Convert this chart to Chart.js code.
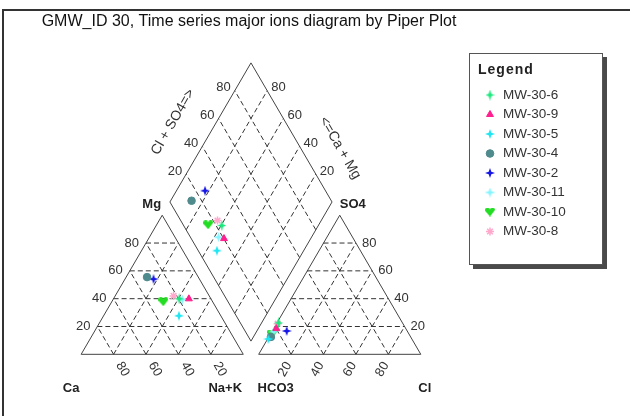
<!DOCTYPE html>
<html>
<head>
<meta charset="utf-8">
<script src="https://cdn.jsdelivr.net/npm/chart.js@4/dist/chart.umd.min.js"></script>
<style>
  html, body { margin: 0; padding: 0; background: #fff; }
  #wrap { width: 630px; height: 416px; }
</style>
</head>
<body>
<div id="wrap"><canvas id="piper" width="630" height="416"></canvas></div>
<script>
// samples (legend order) and their milliequivalent percentages
const samples = ['MW-30-6', 'MW-30-9', 'MW-30-5', 'MW-30-4', 'MW-30-2', 'MW-30-11', 'MW-30-10', 'MW-30-8'];
const ca   = [19.6, 13.6, 25.8, 31.6, 28.3, 17.9, 30.4, 22.0];
const mg   = [39.9, 39.9, 27.7, 55.5, 54.1, 39.4, 37.8, 42.0];
const naK  = [40.5, 46.5, 46.5, 12.9, 17.6, 42.7, 31.8, 36.0];
const hco3 = [76.4, 79.8, 88.5, 86.2, 74.3, 82.6, 84.6, 77.3];
const so4  = [22.6, 18.5, 11.0, 12.5, 16.8, 16.3, 14.6, 22.0];
const cl   = [1.0, 1.7, 0.5, 1.3, 8.9, 1.1, 0.8, 0.7];
const tickValues = [20, 40, 60, 80];

const title = 'GMW_ID 30, Time series major ions diagram by Piper Plot';
const FONT = '"Liberation Sans", Arial, sans-serif';

// piper geometry, in plot units
const L = 100;
const GAP = 9.5;
const H = L * Math.sqrt(3) / 2;
const PX = 1.65;          // pixels per unit
const ORIGIN_X = 77;      // pixel of the cation triangle's left corner
const ORIGIN_Y = 358.3;

function cationXY(c, m, n) {
  return { x: L * (n + m / 2) / 100, y: H * m / 100 };
}
function anionXY(h, s, c) {
  return { x: L + GAP + L * (c + s / 2) / 100, y: H * s / 100 };
}
function diamondXY(cm, ss) {
  const bx = L + GAP / 2, by = GAP * Math.sqrt(3) / 2;
  return { x: bx + (L / 2) * (ss - cm) / 100, y: by + H * (ss + cm) / 100 };
}

function sparkle(color, w, h) {
  const c = document.createElement('canvas');
  c.width = w; c.height = h;
  const g = c.getContext('2d');
  const cx = w / 2, cy = h / 2;
  g.fillStyle = color;
  g.beginPath();
  g.moveTo(cx, 0);
  g.lineTo(cx + 1.3, cy - 1.3);
  g.lineTo(w, cy);
  g.lineTo(cx + 1.3, cy + 1.3);
  g.lineTo(cx, h);
  g.lineTo(cx - 1.3, cy + 1.3);
  g.lineTo(0, cy);
  g.lineTo(cx - 1.3, cy - 1.3);
  g.closePath();
  g.fill();
  return c;
}
function heart(color) {
  const c = document.createElement('canvas');
  c.width = 10; c.height = 9;
  const g = c.getContext('2d');
  g.fillStyle = color;
  g.beginPath();
  g.moveTo(5, 9);
  g.lineTo(0, 3.2);
  g.arc(2.5, 2.6, 2.5, Math.PI, 0);
  g.arc(7.5, 2.6, 2.5, Math.PI, 0);
  g.closePath();
  g.fill();
  return c;
}

const colors = ['#19e87c', '#ff1f8e', '#1ee6f2', '#4f8a8c', '#1515e6', '#85f4ff', '#22dd22', '#ffa8cc'];
const styles = [
  sparkle(colors[0], 9, 11),
  'triangle',
  sparkle(colors[2], 10, 10),
  'circle',
  sparkle(colors[4], 10, 10),
  sparkle(colors[5], 11, 10),
  heart(colors[6]),
  'star'
];

const datasets = samples.map((name, i) => ({
  label: name,
  data: [
    cationXY(ca[i], mg[i], naK[i]),
    anionXY(hco3[i], so4[i], cl[i]),
    diamondXY(ca[i] + mg[i], so4[i] + cl[i])
  ],
  pointStyle: styles[i],
  pointRadius: styles[i] === 'circle' ? 3.8 : 4,
  backgroundColor: colors[i],
  borderColor: colors[i],
  borderWidth: styles[i] === 'star' ? 1.5 : 1,
  showLine: false
}));

function line(ctx, sx, sy, a, b) {
  ctx.beginPath();
  ctx.moveTo(sx.getPixelForValue(a.x), sy.getPixelForValue(a.y));
  ctx.lineTo(sx.getPixelForValue(b.x), sy.getPixelForValue(b.y));
  ctx.stroke();
}

function text(ctx, str, x, y, font, align, angle) {
  ctx.save();
  ctx.font = font;
  ctx.textAlign = align || 'center';
  ctx.textBaseline = 'middle';
  ctx.translate(x, y);
  if (angle) ctx.rotate(angle * Math.PI / 180);
  ctx.fillText(str, 0, 0);
  ctx.restore();
}

const piperFrame = {
  id: 'piperFrame',
  beforeDatasetsDraw(chart) {
    const ctx = chart.ctx;
    const sx = chart.scales.x, sy = chart.scales.y;
    const P = (p) => ({ x: sx.getPixelForValue(p.x), y: sy.getPixelForValue(p.y) });

    ctx.save();
    // outer frame (left and top only)
    ctx.fillStyle = '#333';
    ctx.fillRect(2, 9, 2, 407);
    ctx.fillRect(2, 9, 628, 2);

    ctx.fillStyle = '#111';
    text(ctx, title, 249, 22, '16px ' + FONT, 'center');

    // dashed grid
    ctx.strokeStyle = '#333';
    ctx.lineWidth = 1;
    ctx.setLineDash([5, 3]);
    tickValues.forEach(t => {
      const u = 100 - t;
      line(ctx, sx, sy, cationXY(u, t, 0), cationXY(0, t, u));
      line(ctx, sx, sy, cationXY(u, 0, t), cationXY(0, u, t));
      line(ctx, sx, sy, cationXY(t, 0, u), cationXY(t, u, 0));
      line(ctx, sx, sy, anionXY(u, t, 0), anionXY(0, t, u));
      line(ctx, sx, sy, anionXY(u, 0, t), anionXY(0, u, t));
      line(ctx, sx, sy, anionXY(t, 0, u), anionXY(t, u, 0));
      line(ctx, sx, sy, diamondXY(t, 0), diamondXY(t, 100));
      line(ctx, sx, sy, diamondXY(0, t), diamondXY(100, t));
    });

    // solid outlines
    ctx.setLineDash([]);
    ctx.strokeStyle = '#444';
    const outline = (pts) => {
      ctx.beginPath();
      pts.map(P).forEach((p, k) => k ? ctx.lineTo(p.x, p.y) : ctx.moveTo(p.x, p.y));
      ctx.closePath();
      ctx.stroke();
    };
    outline([cationXY(100, 0, 0), cationXY(0, 100, 0), cationXY(0, 0, 100)]);
    outline([anionXY(100, 0, 0), anionXY(0, 100, 0), anionXY(0, 0, 100)]);
    outline([diamondXY(0, 0), diamondXY(100, 0), diamondXY(100, 100), diamondXY(0, 100)]);

    // tick labels
    ctx.fillStyle = '#333';
    const tf = '13px ' + FONT;
    tickValues.forEach(t => {
      let p = P(cationXY(100 - t, t, 0));
      text(ctx, String(t), p.x - 7, p.y, tf, 'right');
      p = P(anionXY(0, t, 100 - t));
      text(ctx, String(t), p.x + 6, p.y, tf, 'left');
      p = P(cationXY(t, 0, 100 - t));
      text(ctx, String(t), p.x + 9, p.y + 15, tf, 'center', 60);
      p = P(anionXY(100 - t, 0, t));
      text(ctx, String(t), p.x - 6, p.y + 15, tf, 'center', -60);
      p = P(diamondXY(100, t));
      text(ctx, String(t), p.x - 4, p.y - 3, tf, 'right');
      p = P(diamondXY(t, 100));
      text(ctx, String(t), p.x + 4, p.y - 3, tf, 'left');
    });

    // diamond axis titles
    text(ctx, 'Cl + SO4=>', 173, 122, '14px ' + FONT, 'center', -60);
    text(ctx, '<=Ca + Mg', 340, 148, '14px ' + FONT, 'center', 60);

    // corner labels
    ctx.fillStyle = '#222';
    const bf = 'bold 13px ' + FONT;
    let p = P(cationXY(0, 100, 0));
    text(ctx, 'Mg', p.x - 10.5, p.y - 11, bf);
    p = P(anionXY(0, 100, 0));
    text(ctx, 'SO4', p.x + 13, p.y - 11, bf);
    p = P(cationXY(100, 0, 0));
    text(ctx, 'Ca', p.x - 10, p.y + 34, bf);
    p = P(cationXY(0, 0, 100));
    text(ctx, 'Na+K', p.x - 18, p.y + 34, bf);
    p = P(anionXY(100, 0, 0));
    text(ctx, 'HCO3', p.x + 17, p.y + 34, bf);
    p = P(anionXY(0, 0, 100));
    text(ctx, 'Cl', p.x + 4, p.y + 34, bf);
    ctx.restore();
  },
  afterDraw(chart) {
    // legend box with drop shadow
    const ctx = chart.ctx;
    ctx.save();
    ctx.fillStyle = '#4a4a4a';
    ctx.fillRect(473, 57, 134, 212);
    ctx.fillStyle = '#fff';
    ctx.fillRect(469, 53, 134, 212);
    ctx.strokeStyle = '#555';
    ctx.lineWidth = 1;
    ctx.strokeRect(469.5, 53.5, 133, 211);
    ctx.fillStyle = '#222';
    ctx.letterSpacing = '1px';
    text(ctx, 'Legend', 478, 70, 'bold 14px ' + FONT, 'left');
    ctx.letterSpacing = '0px';
    chart.data.datasets.forEach((ds, i) => {
      const y = 95 + i * 19.5;
      ctx.fillStyle = ds.backgroundColor;
      ctx.strokeStyle = ds.borderColor;
      ctx.lineWidth = ds.borderWidth;
      Chart.helpers.drawPoint(ctx, {
        pointStyle: ds.pointStyle,
        radius: ds.pointRadius,
        borderWidth: ds.borderWidth,
        rotation: 0
      }, 490, y);
      ctx.fillStyle = '#333';
      text(ctx, ds.label, 503, y, '13.5px ' + FONT, 'left');
    });
    ctx.restore();
  }
};

new Chart(document.getElementById('piper'), {
  type: 'scatter',
  data: { datasets: datasets },
  options: {
    responsive: false,
    animation: false,
    devicePixelRatio: 1,
    layout: { padding: 0 },
    scales: {
      x: { display: false, min: -ORIGIN_X / PX, max: (630 - ORIGIN_X) / PX },
      y: { display: false, min: -(416 - ORIGIN_Y) / PX, max: ORIGIN_Y / PX }
    },
    plugins: {
      legend: { display: false },
      title: { display: false },
      tooltip: { enabled: false }
    }
  },
  plugins: [piperFrame]
});
</script>
</body>
</html>
